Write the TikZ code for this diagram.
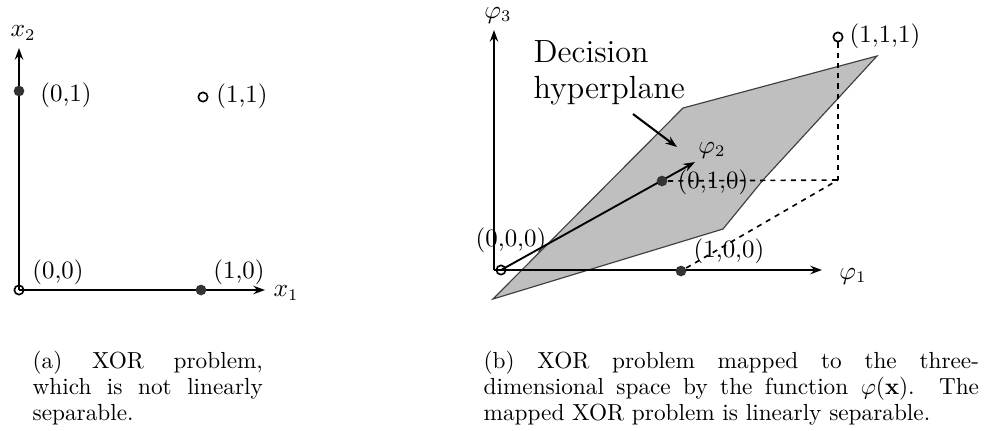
\documentclass[tikz,border=0pt]{standalone}
\usepackage{amsmath,amssymb,bm}
\usepackage{tikz}
\usetikzlibrary{arrows.meta}

\begin{document}
\begin{tikzpicture}[x=0.43pt,y=-0.43pt,>={Stealth[length=5pt,width=3.6pt]},semithick]
		\tikzset{axis/.style={->,line width=0.8pt},
			dot/.style={circle,fill=black!80,inner sep=0pt,minimum size=4.6pt},
			hollow/.style={circle,draw,line width=0.7pt,inner sep=0pt,minimum size=4pt},
			lbl/.style={font=\fontsize{10.7}{13}\selectfont,inner sep=0pt},
			captxt/.style={font=\fontsize{10}{12}\selectfont,inner sep=0pt,anchor=base west},
			plane/.style={fill=black!25,draw=black!75,line width=0.5pt},
			guide/.style={line width=0.7pt,dash pattern=on 2.2pt off 2.2pt}}
		\useasboundingbox (0,0) rectangle (987,430);
		% (a) XOR in the input space
		\coordinate (x1tip) at (265,290);
		\coordinate (x2tip) at (19,48);
		\node[hollow] (o) at (19,290) {};
		\draw[axis] (o.center) -- (x1tip);
		\draw[axis] (o.center) -- (x2tip);
		\node[lbl] (x1) at (286,293) {$x_1$};
		\node[lbl] (x2) at (23,33) {$x_2$};
		\node[dot] (p01) at (19,91) {};
		\node[hollow] (p11) at (203,97) {};
		\node[dot] (p10) at (201,290) {};
		\node[lbl] (l00) at (58,272) {(0,0)};
		\node[lbl] (l01) at (66,95) {(0,1)};
		\node[lbl] (l11) at (242,96) {(1,1)};
		\node[lbl] (l10) at (239,272) {(1,0)};
		% (b) mapped XOR problem
		\draw[plane] (493,299) -- (683,108) -- (877,56) -- (763,180) -- (723,229) -- cycle;
		\coordinate (o3) at (494,270);
		\coordinate (f1tip) at (822,270);
		\coordinate (f2tip) at (695,162);
		\coordinate (f3tip) at (494,30);
		\coordinate (cnr) at (838,180);
		\node[hollow] (q000) at (501,270) {};
		\draw[axis] (o3) -- (f1tip);
		\draw[axis] (o3) -- (f3tip);
		\draw[axis] (q000.center) -- (f2tip);
		\node[lbl] (f1) at (853,276) {$\varphi_1$};
		\node[lbl] (f2) at (712,150) {$\varphi_2$};
		\node[lbl] (f3) at (498,15) {$\varphi_3$};
		\node[dot] (q010) at (662,181) {};
		\node[dot] (q100) at (681,271) {};
		\node[hollow] (q111) at (838,37) {};
		\draw[guide] (q111) -- (cnr);
		\draw[guide] (q010) -- (cnr);
		\draw[guide] (q100) -- (cnr);
		\node[lbl] (m000) at (511,240) {(0,0,0)};
		\node[lbl] (m010) at (713,182) {(0,1,0)};
		\node[lbl] (m100) at (729,251) {(1,0,0)};
		\node[lbl] (m111) at (885,36) {(1,1,1)};
		\node[font=\fontsize{13.8}{15.5}\selectfont,align=left,inner sep=0pt,anchor=north west] (dec) at (533,40) {Decision\\hyperplane};
		\coordinate (decfrom) at (633,114);
		\coordinate (decto) at (677,147);
		\draw[->,line width=0.9pt] (decfrom) -- (decto);
		% captions
		\node[captxt] (capa1) at (32,368) {\makebox[99pt][s]{(a) XOR problem,}};
		\node[captxt] (capa2) at (32,394) {\makebox[99pt][s]{which is not linearly}};
		\node[captxt] (capa3) at (32,420) {separable.};
		\node[captxt] (capb1) at (483,368) {\makebox[213pt][s]{(b) XOR problem mapped to the three-}};
		\node[captxt] (capb2) at (483,394) {\makebox[213pt][s]{dimensional space by the function $\varphi(\mathbf{x})$. The}};
		\node[captxt] (capb3) at (483,420) {mapped XOR problem is linearly separable.};
\end{tikzpicture}
\end{document}
